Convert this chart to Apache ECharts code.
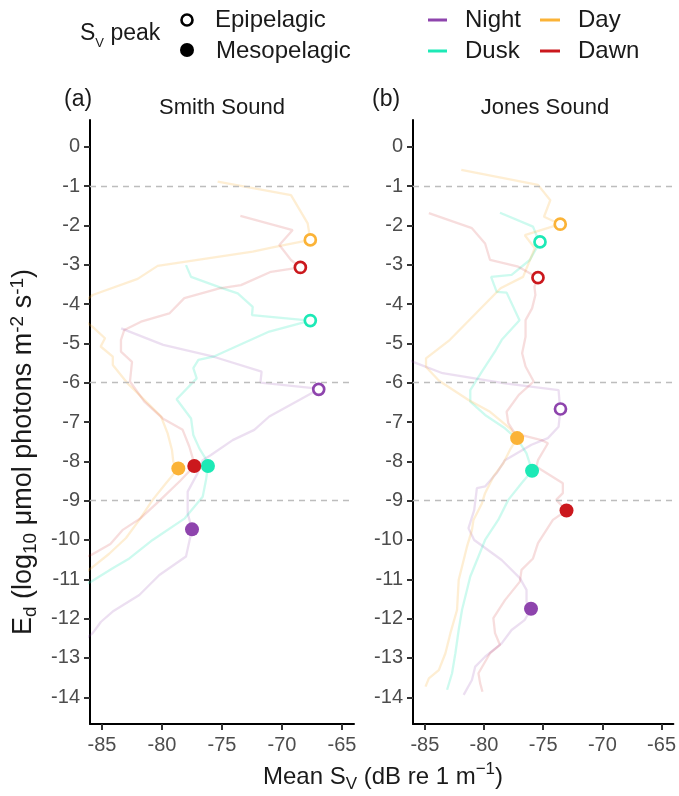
<!DOCTYPE html>
<html>
<head>
<meta charset="utf-8">
<script src="https://cdn.jsdelivr.net/npm/echarts@6/dist/echarts.min.js"></script>
<style>html,body{margin:0;padding:0;background:#fff}#c{width:679px;height:796px}</style>
</head>
<body>
<div id="c"></div>
<script>
// ---------------- DATA ----------------
const panels = ['Smith Sound', 'Jones Sound'];
const periods = ['Night', 'Dusk', 'Day', 'Dawn'];
const yTicks = [0,-1,-2,-3,-4,-5,-6,-7,-8,-9,-10,-11,-12,-13,-14];
const xTicks = [-85,-80,-75,-70,-65];
const dashLevels = [-1,-6,-9];

// Smith Sound profiles [Mean Sv, Ed]
const smithNight = [[-83.4,-4.62],[-79.9,-5.04],[-75.7,-5.34],[-71.7,-5.72],[-71.8,-6.0],[-67.4,-6.14],[-66.94,-6.17],[-68.56,-6.44],[-71.06,-6.86],[-72.31,-7.2],[-74.11,-7.46],[-75.92,-7.84],[-76.61,-7.97],[-77.03,-8.3],[-77.86,-8.77],[-77.86,-9.32],[-77.5,-9.73],[-78.0,-10.42],[-80.22,-10.89],[-81.89,-11.4],[-84.11,-11.82],[-85.08,-12.08],[-85.78,-12.37],[-86.3,-12.5]];
const smithDusk = [[-78.0,-3.01],[-77.58,-3.31],[-74.94,-3.6],[-73.69,-3.73],[-72.44,-4.07],[-72.5,-4.28],[-67.64,-4.42],[-71.06,-4.7],[-75.72,-5.34],[-76.97,-5.42],[-77.39,-5.63],[-77.11,-5.89],[-78.78,-6.42],[-77.58,-6.91],[-77.39,-7.33],[-76.89,-7.67],[-76.39,-7.92],[-76.17,-8.12],[-76.33,-8.47],[-76.61,-8.9],[-78.1,-9.45],[-80.78,-10.0],[-82.72,-10.47],[-84.11,-10.72],[-85.92,-11.06],[-86.5,-11.15]];
const smithDay = [[-75.36,-0.89],[-69.25,-1.23],[-67.86,-1.95],[-67.64,-2.37],[-70.78,-2.56],[-72.44,-2.67],[-80.36,-3.03],[-82.03,-3.36],[-85.78,-3.77],[-87.5,-4.2],[-85.78,-4.58],[-84.75,-4.87],[-85.11,-5.08],[-84.1,-5.34],[-84.1,-5.55],[-82.86,-6.02],[-81.33,-6.48],[-80.08,-6.86],[-79.53,-7.29],[-79.17,-7.71],[-79.06,-8.01],[-78.64,-8.18],[-79.67,-8.56],[-80.78,-8.98],[-81.89,-9.49],[-83.0,-9.95],[-84.4,-10.35],[-85.92,-10.72],[-86.5,-10.85]];
const smithDawn = [[-73.47,-1.76],[-69.11,-2.12],[-70.22,-2.5],[-69.25,-2.88],[-68.47,-3.07],[-70.92,-3.18],[-73.42,-3.52],[-75.22,-3.6],[-78.14,-3.85],[-79.39,-4.24],[-81.75,-4.45],[-83.14,-4.66],[-83.42,-4.91],[-83.42,-5.21],[-82.5,-5.47],[-82.67,-5.97],[-81.47,-6.48],[-79.94,-6.91],[-78.28,-7.2],[-77.72,-7.63],[-77.44,-7.92],[-77.31,-8.12],[-78.5,-8.5],[-80.2,-9.0],[-81.8,-9.45],[-83.3,-9.75],[-84.3,-10.1],[-85.9,-10.38],[-86.5,-10.45]];

// Jones Sound profiles [Mean Sv, Ed]
const jonesNight = [[-86.6,-5.4],[-86.0,-5.47],[-83.5,-5.76],[-78.23,-6.02],[-73.7,-6.19],[-73.62,-6.48],[-73.54,-6.67],[-73.7,-7.12],[-74.6,-7.41],[-75.99,-7.58],[-78.23,-7.97],[-78.93,-8.3],[-79.91,-8.64],[-80.6,-8.68],[-80.83,-9.24],[-81.31,-9.7],[-80.83,-10.0],[-78.51,-10.51],[-76.97,-10.97],[-76.41,-11.27],[-76.41,-11.57],[-76.03,-11.75],[-76.55,-12.03],[-77.67,-12.29],[-78.51,-12.63],[-79.91,-12.97],[-80.74,-13.22],[-81.02,-13.56],[-81.72,-13.94]];
const jonesDusk = [[-78.65,-1.68],[-75.86,-2.03],[-75.57,-2.25],[-75.27,-2.42],[-76.13,-2.88],[-77.67,-3.26],[-79.4,-3.31],[-78.93,-3.69],[-78.09,-3.71],[-77.0,-4.41],[-78.5,-4.91],[-79.0,-5.17],[-80.18,-5.72],[-81.16,-6.19],[-81.16,-6.48],[-79.91,-6.82],[-78.23,-7.16],[-77.11,-7.46],[-76.41,-7.8],[-75.94,-8.24],[-76.83,-8.56],[-77.95,-8.98],[-78.8,-9.49],[-79.91,-10.0],[-80.47,-10.42],[-81.16,-10.93],[-81.86,-11.78],[-82.14,-12.29],[-82.42,-12.88],[-82.7,-13.39],[-83.12,-13.81]];
const jonesDay = [[-81.92,-0.59],[-75.44,-0.97],[-74.4,-1.36],[-74.93,-1.78],[-73.56,-1.97],[-76.55,-2.25],[-75.71,-2.58],[-76.7,-3.31],[-78.6,-3.6],[-82.88,-4.91],[-84.9,-5.38],[-84.9,-5.6],[-83.8,-5.95],[-81.31,-6.44],[-79.49,-6.74],[-77.81,-7.16],[-77.2,-7.41],[-77.81,-7.71],[-78.37,-8.05],[-79.21,-8.39],[-79.91,-8.81],[-80.18,-9.07],[-80.89,-9.49],[-81.02,-9.75],[-81.44,-10.17],[-82.14,-11.02],[-82.28,-11.78],[-82.84,-12.37],[-83.26,-12.88],[-83.82,-13.31],[-84.66,-13.52],[-84.94,-13.73]];
const jonesDawn = [[-84.66,-1.69],[-81.02,-2.07],[-79.91,-2.46],[-79.49,-2.88],[-77.11,-3.05],[-75.44,-3.33],[-75.74,-3.56],[-75.66,-3.77],[-75.94,-4.11],[-76.49,-4.41],[-76.49,-4.83],[-76.78,-5.25],[-76.49,-5.59],[-75.8,-5.97],[-77.06,-6.31],[-78.09,-6.74],[-77.95,-7.03],[-77.39,-7.29],[-75.15,-7.46],[-74.6,-7.54],[-75.44,-7.97],[-75.57,-8.14],[-73.34,-8.56],[-73.34,-8.81],[-73.9,-8.98],[-73.03,-9.25],[-74.18,-9.49],[-75.44,-10.08],[-75.86,-10.47],[-76.83,-10.76],[-76.97,-11.06],[-78.23,-11.53],[-79.21,-11.99],[-79.07,-12.37],[-78.65,-12.67],[-79.49,-12.88],[-80.47,-13.39],[-80.33,-13.64],[-80.13,-13.86]];

// Sv peaks [Mean Sv, Ed, period]
const smithEpiPeaks = [[-66.94,-6.17,'Night'],[-67.64,-4.42,'Dusk'],[-67.64,-2.37,'Day'],[-68.47,-3.07,'Dawn']];
const smithMesoPeaks = [[-77.5,-9.73,'Night'],[-76.17,-8.12,'Dusk'],[-78.64,-8.18,'Day'],[-77.31,-8.12,'Dawn']];
const jonesEpiPeaks = [[-73.54,-6.67,'Night'],[-75.27,-2.42,'Dusk'],[-73.56,-1.97,'Day'],[-75.44,-3.33,'Dawn']];
const jonesMesoPeaks = [[-76.03,-11.75,'Night'],[-75.94,-8.24,'Dusk'],[-77.2,-7.41,'Day'],[-73.03,-9.25,'Dawn']];

// ---------------- STYLE ----------------
const colors = {Night:'#8E44AD', Dusk:'#1DE9B6', Day:'#FBB337', Dawn:'#CB181D'};
const lineAlpha = {Night: 0.17, Dusk: 0.22, Day: 0.22, Dawn: 0.15};
const FONT = 'Liberation Sans, Arial, sans-serif';
const tickColor = '#4D4D4D';

const profiles = [
  {Night: smithNight, Dusk: smithDusk, Day: smithDay, Dawn: smithDawn},
  {Night: jonesNight, Dusk: jonesDusk, Day: jonesDay, Dawn: jonesDawn}
];
const epi = [smithEpiPeaks, jonesEpiPeaks];
const meso = [smithMesoPeaks, jonesMesoPeaks];

const grids = [
  {left: 90, top: 120, width: 264, height: 604},
  {left: 413, top: 120, width: 262, height: 604}
];

function mkX(i) {
  return {
    type: 'value', gridIndex: i, min: -86, max: -64,
    splitLine: {show: false},
    axisLine: {show: true, onZero: false, lineStyle: {color: '#000', width: 2}},
    axisTick: {show: true, length: 6, lineStyle: {color: '#333', width: 2}, customValues: xTicks},
    axisLabel: {color: tickColor, fontSize: 20, fontFamily: FONT, margin: 11, customValues: xTicks,
      formatter: v => String(v)}
  };
}
function mkY(i) {
  return {
    type: 'value', gridIndex: i, min: -14.68, max: 0.68,
    splitLine: {show: false},
    axisLine: {show: true, onZero: false, lineStyle: {color: '#000', width: 2}},
    axisTick: {show: true, length: 6, lineStyle: {color: '#333', width: 2}, customValues: yTicks},
    axisLabel: {color: tickColor, fontSize: 20, fontFamily: FONT, margin: 10, customValues: yTicks,
      formatter: v => String(v)}
  };
}

const series = [];
for (let p = 0; p < 2; p++) {
  series.push({
    type: 'line', xAxisIndex: p, yAxisIndex: p, data: [], silent: true,
    markLine: {
      silent: true, symbol: 'none', animation: false,
      label: {show: false},
      lineStyle: {type: [6, 5], color: '#BDBDBD', width: 1.3},
      data: dashLevels.map(v => ({yAxis: v}))
    }
  });
  periods.forEach(per => {
    series.push({
      type: 'line', name: per, xAxisIndex: p, yAxisIndex: p,
      data: profiles[p][per], showSymbol: false, symbol: 'none', clip: true,
      lineStyle: {color: colors[per], width: 2.3, opacity: lineAlpha[per]},
      z: 2, silent: true
    });
  });
  series.push({
    type: 'scatter', xAxisIndex: p, yAxisIndex: p, symbol: 'circle', symbolSize: 11, z: 5,
    data: epi[p].map(d => ({value: [d[0], d[1]], itemStyle: {color: '#fff', borderColor: colors[d[2]], borderWidth: 2.7, opacity: 1}}))
  });
  series.push({
    type: 'scatter', xAxisIndex: p, yAxisIndex: p, symbol: 'circle', symbolSize: 14, z: 6,
    data: meso[p].map(d => ({value: [d[0], d[1]], itemStyle: {color: colors[d[2]], opacity: 1}}))
  });
}

const txt = (x, y, text, size, opts) => ({
  type: 'text', x: x, y: y,
  style: Object.assign({text: text, fontSize: size, fontFamily: FONT, fill: '#1A1A1A', align: 'left', verticalAlign: 'middle'}, opts || {})
});

const richBase = (size, r) => ({
  n: {fontSize: size, fontFamily: FONT, fill: '#1A1A1A', lineHeight: 32},
  sub: {fontSize: Math.round(size * r), fontFamily: FONT, fill: '#1A1A1A', lineHeight: 16, verticalAlign: 'bottom'},
  sup: {fontSize: Math.round(size * r), fontFamily: FONT, fill: '#1A1A1A', lineHeight: 18, verticalAlign: 'top'}
});

const graphic = [
  // legend: Sv peak
  {type: 'text', x: 80, y: 34, style: {text: '{n|S}{sub|V}{n| peak}', rich: richBase(23, 0.55), align: 'left', verticalAlign: 'middle'}},
  {type: 'circle', shape: {cx: 187, cy: 20, r: 5.5}, style: {fill: '#fff', stroke: '#000', lineWidth: 2.6}},
  {type: 'circle', shape: {cx: 187, cy: 50, r: 7}, style: {fill: '#000'}},
  txt(215, 20, 'Epipelagic', 24),
  txt(216, 51, 'Mesopelagic', 24),
  // legend: period
  {type: 'line', shape: {x1: 428, y1: 20, x2: 447, y2: 20}, style: {stroke: colors.Night, lineWidth: 3}},
  {type: 'line', shape: {x1: 428, y1: 51, x2: 447, y2: 51}, style: {stroke: colors.Dusk, lineWidth: 3}},
  {type: 'line', shape: {x1: 540, y1: 20, x2: 560, y2: 20}, style: {stroke: colors.Day, lineWidth: 3}},
  {type: 'line', shape: {x1: 540, y1: 51, x2: 560, y2: 51}, style: {stroke: colors.Dawn, lineWidth: 3}},
  txt(465, 20, 'Night', 24),
  txt(465, 51, 'Dusk', 24),
  txt(578, 20, 'Day', 24),
  txt(578, 51, 'Dawn', 24),
  // panel labels
  txt(64, 100, '(a)', 23),
  txt(222, 108, panels[0], 22, {align: 'center'}),
  txt(372, 100, '(b)', 23),
  txt(545, 108, panels[1], 22, {align: 'center'}),
  // axis titles
  {type: 'text', x: 383, y: 777, style: {text: '{n|Mean S}{sub|V}{n| (dB re 1 m}{sup|−1}{n|)}', rich: richBase(24, 0.7), align: 'center', verticalAlign: 'middle'}},
  {type: 'text', x: 24, y: 452, rotation: Math.PI / 2,
    style: {text: '{n|E}{sub|d}{n| (log}{sub|10}{n| μmol photons m}{sup|-2}{n| s}{sup|-1}{n|)}', rich: richBase(27, 0.72), align: 'center', verticalAlign: 'middle'}}
];

const chart = echarts.init(document.getElementById('c'), null, {renderer: 'canvas'});
chart.setOption({
  animation: false,
  backgroundColor: '#fff',
  grid: grids,
  xAxis: [mkX(0), mkX(1)],
  yAxis: [mkY(0), mkY(1)],
  series: series,
  graphic: graphic
});
</script>
</body>
</html>
